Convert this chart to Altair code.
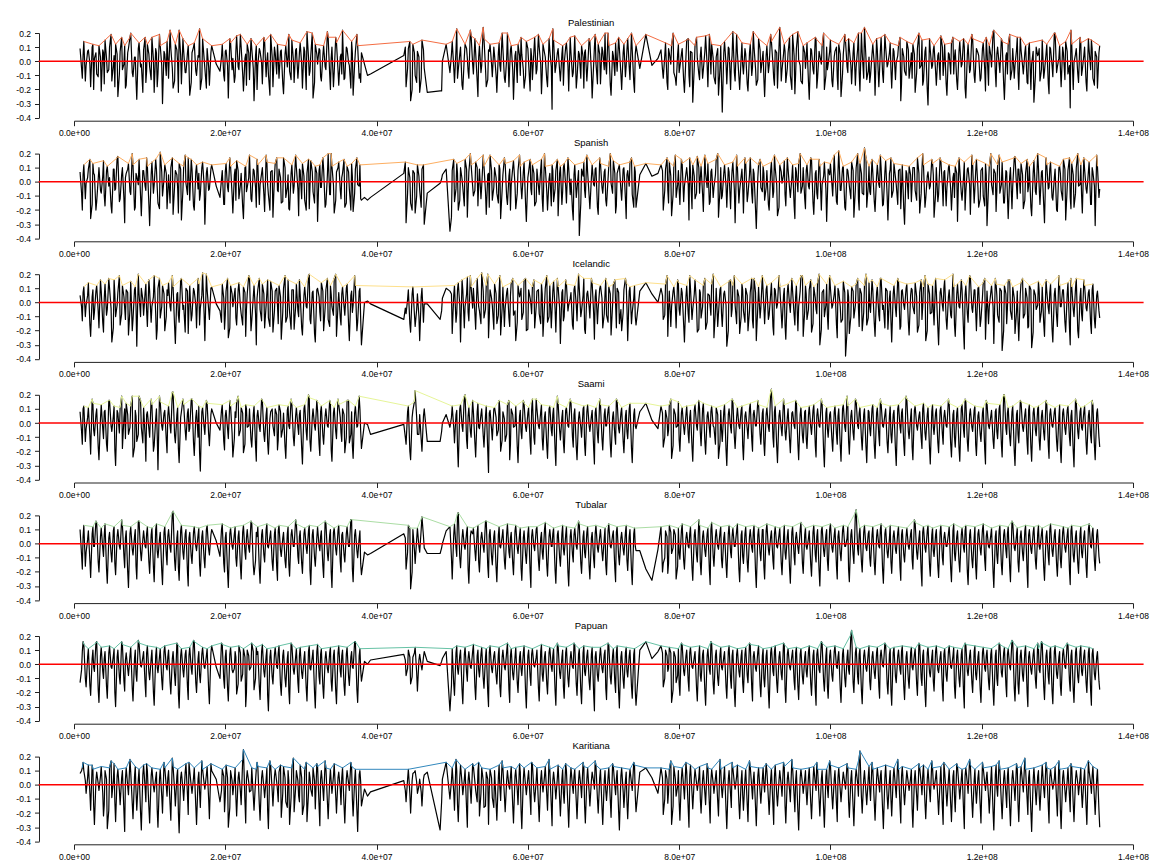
import altair as alt
import pandas as pd

FONT = "Liberation Sans"

# window positions in units of 0.1 Mb (shared by all populations)
POS = [
    8, 11, 13, 16, 19, 22, 25, 27, 30, 33,
    36, 39, 41, 44, 47, 50, 53, 55, 58, 61,
    64, 67, 69, 72, 75, 78, 81, 83, 86, 89,
    92, 95, 97, 100, 103, 106, 109, 111, 114, 117,
    120, 123, 125, 128, 131, 134, 137, 139, 142, 145,
    148, 151, 153, 156, 159, 162, 165, 167, 170, 173,
    176, 179, 182, 188, 193, 196, 199, 201, 204, 207,
    210, 213, 215, 218, 221, 224, 227, 229, 232, 235,
    238, 241, 243, 246, 249, 252, 255, 257, 260, 263,
    266, 269, 271, 274, 277, 280, 283, 285, 288, 291,
    294, 297, 299, 302, 305, 308, 311, 313, 316, 319,
    322, 325, 327, 330, 333, 336, 339, 341, 344, 347,
    350, 353, 355, 358, 361, 364, 367, 369, 372, 375,
    378, 380, 384, 388, 392, 436, 439, 442, 445, 448,
    451, 454, 457, 460, 463, 467, 484, 487, 492, 497,
    500, 503, 506, 508, 511, 514, 517, 520, 522, 525,
    528, 531, 534, 536, 539, 542, 545, 548, 550, 553,
    556, 559, 562, 564, 567, 570, 573, 576, 578, 581,
    584, 587, 590, 592, 595, 598, 601, 604, 606, 609,
    612, 615, 618, 620, 623, 626, 629, 632, 634, 637,
    640, 643, 646, 648, 651, 654, 657, 660, 662, 665,
    668, 671, 674, 676, 679, 682, 685, 688, 690, 693,
    696, 699, 702, 704, 707, 710, 713, 716, 718, 721,
    724, 727, 730, 732, 735, 738, 741, 743, 748, 756,
    764, 772, 776, 779, 782, 785, 787, 790, 793, 796,
    799, 801, 804, 807, 810, 813, 815, 818, 821, 824,
    827, 829, 832, 835, 838, 841, 843, 846, 849, 852,
    855, 857, 860, 863, 866, 869, 871, 874, 877, 880,
    883, 885, 888, 891, 894, 897, 899, 902, 905, 908,
    911, 913, 916, 919, 922, 925, 927, 930, 933, 936,
    939, 941, 944, 947, 950, 953, 955, 958, 961, 964,
    967, 969, 972, 975, 978, 981, 983, 986, 989, 992,
    995, 997, 1000, 1003, 1006, 1009, 1011, 1014, 1017, 1020,
    1023, 1025, 1028, 1031, 1034, 1037, 1039, 1042, 1045, 1048,
    1051, 1053, 1056, 1059, 1062, 1065, 1067, 1070, 1073, 1076,
    1079, 1081, 1084, 1087, 1090, 1093, 1095, 1098, 1101, 1104,
    1107, 1109, 1112, 1115, 1118, 1121, 1123, 1126, 1129, 1132,
    1135, 1137, 1140, 1143, 1146, 1149, 1151, 1154, 1157, 1160,
    1163, 1165, 1168, 1171, 1174, 1177, 1179, 1182, 1185, 1188,
    1191, 1193, 1196, 1199, 1202, 1205, 1207, 1210, 1213, 1216,
    1219, 1221, 1224, 1227, 1230, 1233, 1235, 1238, 1241, 1244,
    1247, 1249, 1252, 1255, 1258, 1261, 1263, 1266, 1269, 1272,
    1275, 1277, 1280, 1283, 1286, 1289, 1291, 1294, 1297, 1300,
    1303, 1305, 1308, 1311, 1314, 1317, 1319, 1322, 1325, 1328,
    1331, 1333, 1336, 1339, 1342, 1345, 1347, 1350, 1353, 1356,
]

# intermediate windows (0.1 Mb units), one row per row of POS
POS_B = [
    [10, 12, 15, 18, 21, 24, 26, 29, 32, 35],
    [38, 40, 43, 46, 49, 52, 54, 57, 60, 63],
    [66, 68, 71, 74, 77, 80, 82, 85, 88, 91],
    [94, 96, 99, 102, 105, 108, 110, 113, 116, 119],
    [122, 124, 127, 130, 133, 136, 138, 141, 144, 147],
    [150, 152, 155, 158, 161, 164, 166, 169, 172, 175],
    [178, 181, 195, 198, 200, 203, 206, 209],
    [212, 214, 217, 220, 223, 226, 228, 231, 234, 237],
    [240, 242, 245, 248, 251, 254, 256, 259, 262, 265],
    [268, 270, 273, 276, 279, 282, 284, 287, 290, 293],
    [296, 298, 301, 304, 307, 310, 312, 315, 318, 321],
    [324, 326, 329, 332, 335, 338, 340, 343, 346, 349],
    [352, 354, 357, 360, 363, 366, 368, 371, 374, 377],
    [379, 438, 441, 444, 447, 450],
    [453, 456, 459, 462, 486, 499],
    [502, 505, 507, 510, 513, 516, 519, 521, 524, 527],
    [530, 533, 535, 538, 541, 544, 547, 549, 552, 555],
    [558, 561, 563, 566, 569, 572, 575, 577, 580, 583],
    [586, 589, 591, 594, 597, 600, 603, 605, 608, 611],
    [614, 617, 619, 622, 625, 628, 631, 633, 636, 639],
    [642, 645, 647, 650, 653, 656, 659, 661, 664, 667],
    [670, 673, 675, 678, 681, 684, 687, 689, 692, 695],
    [698, 701, 703, 706, 709, 712, 715, 717, 720, 723],
    [726, 729, 731, 734, 737, 740, 742],
    [778, 781, 784, 786, 789, 792, 795, 798],
    [800, 803, 806, 809, 812, 814, 817, 820, 823, 826],
    [828, 831, 834, 837, 840, 842, 845, 848, 851, 854],
    [856, 859, 862, 865, 868, 870, 873, 876, 879, 882],
    [884, 887, 890, 893, 896, 898, 901, 904, 907, 910],
    [912, 915, 918, 921, 924, 926, 929, 932, 935, 938],
    [940, 943, 946, 949, 952, 954, 957, 960, 963, 966],
    [968, 971, 974, 977, 980, 982, 985, 988, 991, 994],
    [996, 999, 1002, 1005, 1008, 1010, 1013, 1016, 1019, 1022],
    [1024, 1027, 1030, 1033, 1036, 1038, 1041, 1044, 1047, 1050],
    [1052, 1055, 1058, 1061, 1064, 1066, 1069, 1072, 1075, 1078],
    [1080, 1083, 1086, 1089, 1092, 1094, 1097, 1100, 1103, 1106],
    [1108, 1111, 1114, 1117, 1120, 1122, 1125, 1128, 1131, 1134],
    [1136, 1139, 1142, 1145, 1148, 1150, 1153, 1156, 1159, 1162],
    [1164, 1167, 1170, 1173, 1176, 1178, 1181, 1184, 1187, 1190],
    [1192, 1195, 1198, 1201, 1204, 1206, 1209, 1212, 1215, 1218],
    [1220, 1223, 1226, 1229, 1232, 1234, 1237, 1240, 1243, 1246],
    [1248, 1251, 1254, 1257, 1260, 1262, 1265, 1268, 1271, 1274],
    [1276, 1279, 1282, 1285, 1288, 1290, 1293, 1296, 1299, 1302],
    [1304, 1307, 1310, 1313, 1316, 1318, 1321, 1324, 1327, 1330],
    [1332, 1335, 1338, 1341, 1344, 1346, 1349, 1352, 1355],
]

PANELS = ["Palestinian", "Spanish", "Icelandic", "Saami", "Tubalar", "Papuan", "Karitiana"]
COLORS = ["#F46D43", "#FDAE61", "#FEE08B", "#E6F598", "#ABDDA4", "#66C2A5", "#3288BD"]

# statistic values in hundredths, at POS
PALESTINIAN = [
    9, -12, 14, -3, 8, -18, 12, 2, -9, 11,
    -21, 6, 15, -8, 10, -14, 4, 12, -25, 7,
    -6, 11, -17, 9, 20, -11, 3, -27, 13, -2,
    8, -15, 12, -4, 17, -22, 6, -9, 11, -30,
    5, 14, -12, 9, -19, 12, -1, 22, -16, 7,
    -8, 11, -24, 6, 13, -10, 3, -20, 16, -5,
    9, -17, 11, -2, -7, 12, -14, 8, -26, 13,
    2, -11, 18, -6, 10, -21, 5, 12, -13, 9,
    -28, 11, -3, 7, -16, 14, 0, -9, 19, -18,
    6, 12, -12, 8, -23, 11, 3, -7, 15, -15,
    9, -4, 13, -19, 7, 21, -10, 4, -26, 12,
    -2, 8, -14, 11, -6, 17, -20, 10, -8, 13,
    -17, 5, 22, -12, 9, -3, 14, -24, 7, 11,
    -9, 6, -2, -10, -9, 4, -18, 9, -28, 12,
    -10, 7, -22, 15, -5, -22, -21, 0, 12, -8,
    14, -15, 23, -6, 10, -20, 12, 2, -12, 18,
    -9, 6, -25, 11, -3, 16, -18, 8, 12, -11,
    4, -22, 13, -7, 9, -15, 20, -4, 11, -27,
    7, 12, -10, 5, -19, 14, -1, 9, -13, 17,
    -6, 10, -23, 12, 3, -18, 8, -34, 15, -4,
    9, -14, 11, -2, 13, -21, 6, -8, 18, -12,
    5, 11, -19, 8, -5, 14, -26, 10, -1, 12,
    -16, 7, 20, -9, 11, -24, 4, 13, -7, 9,
    -20, 12, -3, 16, -13, 8, -22, 11, -5, 19,
    -3, 2, 8, -12, 13, -20, 6, 11, -8, -17,
    12, -4, 9, -22, 15, -10, 7, -29, 11, 2,
    -13, 10, -6, 18, -18, 8, 12, -11, 3, -24,
    11, -36, 14, -16, 9, -2, 21, -14, 6, -20,
    13, -9, 5, -21, 12, -4, 10, -17, 16, -8,
    7, -25, 11, -3, 14, -12, 8, -19, 24, -6,
    12, -15, 6, -10, 19, -23, 9, 1, -14, 11,
    -5, 13, -27, 8, -9, 16, -12, 4, 11, -20,
    10, -2, 15, -18, 7, -11, 12, -25, 5, 14,
    -8, 9, -16, 13, -4, 20, -21, 6, 24, -13,
    3, -10, 12, -24, 8, -6, 17, -15, 10, -2,
    13, -19, 7, -1, 11, -28, 9, -7, 14, -12,
    6, 12, -22, 9, -5, 15, -14, 10, -31, 8,
    -3, 11, -17, 6, 18, -10, 12, -24, 5, 13,
    -9, 8, -20, 14, -2, 10, -26, 12, -6, 16,
    -15, 9, 4, -12, 13, -21, 7, 11, -4, 22,
    -18, 10, -8, 14, -27, 6, 12, -13, 9, -3,
    17, -20, 8, -9, 11, -16, 13, -2, -29, 10,
    5, -14, 15, -7, 12, -23, 9, -11, 20, -4,
    11, -18, 6, 14, -9, -33, 12, -1, 9, -15,
    13, -6, 10, -21, 8, 15, -12, 7, -19, 11,
]
PALESTINIAN_B = [
    [-5, 4, -14, 7, -2, 10, -20, 6, -11, 3],
    [8, -16, 2, -6, 19, -3, -18, 5, -9, 17],
    [-2, -19, 6, 17, -8, 3, -14, 9, -4, -22],
    [17, -7, 5, -13, 1, 9, -18, 19, -3, 7],
    [-10, 3, 22, -5, -14, 8, -22, 4, 16, -8],
    [6, -3, -15, 10, -7, 4, 23, -12, 2, -19],
    [-4, 6, 3, -10, 7, -3, 16, -6],
    [-15, 7, -4, 19, -9, 2, -17, 6, 16, -5],
    [4, -20, 9, -1, 17, -11, 6, -24, 3, 10],
    [-9, 2, 7, -16, 5, -4, 19, -13, 1, 8],
    [-12, 6, -2, 10, -20, 3, -7, 20, -15, 5],
    [9, -11, 4, -4, 21, -9, 2, -18, 17, -6],
    [3, -9, -13, 10, -1, -19, 6, -2, 19, -12],
    [-15, 10, -5, 14, -20, 6],
    [-15, 3, -12, 8, -21, 5],
    [-4, 8, -12, 5, -17, 3, 9, -7, 22, -2],
    [16, -14, 3, -8, 24, -5, -13, 7, -2, 10],
    [-10, 6, -3, 20, -12, 2, -18, 8, -6, 4],
    [-15, 4, 17, -6, -10, 9, -21, 3, 7, -9],
    [19, -2, -9, 6, -13, 16, -4, 23, -8, 6],
    [-7, 5, -17, 10, -3, 17, -11, 4, -19, 7],
    [-12, 3, 6, -14, 16, -8, -2, 19, -16, 5],
    [10, -6, -3, 20, -17, 7, -10, 2, 17, -9],
    [6, -11, 8, -4, 20, -15, 5],
    [-6, 4, -15, 9, -2, 20, -12, 5],
    [-8, 5, -14, 3, 16, -18, 6, -4, 17, -9],
    [4, -12, 7, -3, 19, -9, 2, -16, 9, -5],
    [-14, 6, -2, 10, -20, 4, -8, 19, -11, 3],
    [-3, 9, -16, 6, -10, 21, -5, -13, 8, 2],
    [-12, 4, -8, 19, -2, -17, 6, 10, -14, 5],
    [7, -5, 17, -20, 4, -9, 21, -3, -16, 6],
    [3, -15, 9, -6, 17, -19, 7, -2, 20, -10],
    [-6, 7, -14, 3, 10, -20, 5, -9, 19, -4],
    [16, -3, 6, -17, 9, -8, 20, -12, 2, -7],
    [-15, 5, -2, 16, -18, 7, -9, 19, -4, 6],
    [-6, 9, -13, 4, 17, -16, 3, -10, 8, -2],
    [-12, 5, -8, 20, -3, -17, 7, -20, 16, -5],
    [8, -7, 4, -13, 10, -2, -16, 6, -9, 17],
    [3, -14, 7, -4, 16, -19, 5, -8, 19, -10],
    [-3, 6, -14, 9, -6, 17, -17, 4, 21, -8],
    [5, -2, 16, -16, 4, -9, 19, -6, -12, 8],
    [-8, 17, -3, 6, -15, 9, -20, 7, -10, 4],
    [9, -6, -12, 5, -16, 10, -3, 20, -8, 2],
    [-5, 10, -13, 7, -3, 22, -20, 5, -9, 17],
    [-10, 4, -15, 16, -6, 9, -17, 3, 6],
]

SPANISH = [
    7, -20, 12, -1, 9, -26, 13, 5, -14, 10,
    -8, 15, -17, 11, 3, -22, 9, -5, 18, -12,
    10, -29, 6, 13, -9, 12, -18, 4, 16, -24,
    8, -6, 11, -31, 14, -2, 9, -15, 21, -10,
    12, -19, 5, 10, -23, 8, -4, 13, -27, 11,
    -1, 17, -13, 9, -20, 12, 6, -9, 14, -30,
    10, -5, 12, -3, -11, 8, -16, 13, -7, 11,
    -22, 9, 15, -12, 6, -26, 11, -4, 19, -14,
    8, -18, 12, -2, 10, -21, 14, -9, 7, -25,
    13, -6, 9, -15, 17, -11, 5, -20, 12, -3,
    10, -24, 8, 13, -13, 6, -19, 15, -7, 11,
    -28, 12, -4, 9, -16, 20, -9, 11, -22, 7,
    14, -12, 6, -18, 11, -5, 13, -21, 9, -2,
    12, -13, -11, -13, -11, 6, -29, 10, -15, 8,
    -22, 12, -6, 9, -30, -8, -1, 5, 9, -35,
    8, -14, 13, -20, 10, -4, 16, -25, 7, 12,
    -10, 14, -17, 9, -3, 11, -23, 6, 19, -13,
    10, -8, 12, -26, 5, 13, -16, 9, -2, 15,
    -19, 8, 11, -12, 14, -28, 7, -5, 12, -17,
    9, -9, 16, -21, 11, -20, 6, 12, -14, 8,
    -24, 11, -7, 13, -15, 10, 2, -27, 12, -5,
    -38, 9, 14, -11, 7, -19, 12, -3, 10, -23,
    13, -8, 9, -17, 11, -1, 15, -22, 6, 12,
    -13, 10, -26, 8, 14, -9, 11, -18, 5, 13,
    4, 6, 12, -20, 9, -6, 14, -24, 11, -11,
    8, -16, 13, -3, 10, -27, 7, 12, -12, 18,
    -8, 11, -21, 6, 13, -14, 9, -4, 16, -25,
    10, -10, 12, -18, 7, -2, 14, -29, 11, -6,
    9, -22, 13, -9, 17, -15, 6, -33, 12, -4,
    11, -13, 8, -20, 14, -7, 10, -24, 12, -1,
    15, -17, 9, -11, 12, -26, 7, 13, -8, 10,
    -19, 12, -5, 16, -23, 8, -12, 11, -2, 14,
    -28, 9, 13, -10, 7, -16, 22, -6, 11, -20,
    8, -3, 14, -25, 10, -12, 13, -8, 24, -18,
    11, -9, 7, -21, 12, -4, 10, -16, 15, -27,
    9, -11, 13, -2, 8, -19, 12, -30, 6, 11,
    -14, 10, -6, 17, -22, 9, 12, -12, 7, -3,
    13, -25, 10, -9, 15, -17, 8, -4, 12, -20,
    6, 11, -28, 9, -13, 14, -7, 10, -23, 12,
    -5, 16, -18, 8, -10, 13, -31, 11, -2, 9,
    -21, 12, -8, 14, -15, 7, -26, 10, -3, 18,
    -12, 9, 13, -19, 6, -7, 11, -24, 15, -9,
    10, -16, 8, -29, 12, -4, 14, -13, 9, -21,
    11, -6, 16, -27, 8, -11, 13, -18, 10, -3,
    12, -22, 9, -8, 14, -16, 7, -31, 11, -5,
]
SPANISH_B = [
    [-8, 5, -12, 3, 16, -16, 6, -20, 2, -6],
    [4, -10, 8, -3, -17, 9, -6, 17, -14, 5],
    [-12, 3, 9, -7, 20, -20, 6, -2, -10, 8],
    [-3, 17, -16, 5, -8, 16, -4, -19, 7, 2],
    [6, -8, -15, 17, -3, 5, -22, 9, -6, 19],
    [-9, 4, 16, -17, 7, -5, -13, 10, -2, 6],
    [-6, 9, 2, -16, 7, -4, 17, -9],
    [5, -13, 8, -2, -18, 10, -7, 3, -12, 9],
    [-4, 16, -16, 6, -9, 19, -2, -20, 8, 4],
    [17, -7, 3, -14, 10, -4, -19, 6, -8, 19],
    [-5, 9, -12, 4, -20, 16, -3, 7, -15, 6],
    [8, -4, 17, -18, 5, -9, 20, -2, -13, 10],
    [-6, 3, 16, -15, 7, -20, 4, -8, 17, -3],
    [-12, 14, -8, 3, -20, 6],
    [-10, 4, -18, 12, 2, -25],
    [16, -5, 6, -13, 2, -17, 9, -8, 20, -3],
    [-6, 10, -2, -12, 19, -7, 5, -18, 8, -4],
    [3, -15, 9, -6, 17, -11, 4, -20, 10, -2],
    [-8, 19, -4, 7, -16, 3, 16, -9, 6, -14],
    [-3, 9, -12, 20, -7, 2, -17, 8, -5, 16],
    [6, -16, 10, -3, 17, -9, -20, 5, -11, 8],
    [-15, 4, -6, 19, -10, 3, -2, 9, -18, 17],
    [-4, 7, -13, 2, 20, -8, 6, -17, 10, -6],
    [9, -12, 5, -3, 17, -18, 7],
    [8, -6, 17, -15, 4, -9, 19, -2],
    [-5, 16, -14, 6, -2, 17, -19, 4, -8, 10],
    [3, -9, 19, -4, -16, 7, -11, 5, 20, -6],
    [-12, 6, -3, 10, -19, 8, -6, 19, -15, 4],
    [-2, 17, -14, 5, -8, 9, -20, 3, 16, -7],
    [6, -4, -16, 8, -11, 19, -2, -18, 7, 5],
    [-9, 17, -5, 3, -17, 10, -7, 20, -3, -12],
    [8, -3, 17, -15, 6, -8, 16, -20, 4, -5],
    [-10, 5, -2, 19, -14, 7, -6, 10, -18, 9],
    [3, -12, 8, -5, 20, -20, 6, -9, 17, -3],
    [-7, 16, -14, 4, -2, 19, -17, 7, -10, 6],
    [17, -6, 3, -16, 9, -4, -20, 8, -12, 5],
    [-2, 10, -13, 6, -8, 20, -18, 4, -5, 16],
    [5, -9, -14, 17, -3, 7, -17, 10, -6, 3],
    [-11, 6, 17, -8, 4, -20, 9, -2, 19, -15],
    [7, -4, -12, 10, -17, 5, -3, 20, -9, 6],
    [-6, 19, -2, -15, 8, -10, 4, -19, 17, -3],
    [9, -8, 5, -13, 16, -3, -18, 6, -7, 20],
    [-4, 7, -17, 17, -5, 9, -11, 3, -20, 10],
    [6, -13, 9, -4, 17, -19, 5, -8, 20, -2],
    [-9, 17, -5, 7, -16, 10, -3, 19, -11],
]

ICELANDIC = [
    5, -13, 11, -2, 14, -24, 9, -7, 12, -18,
    8, -21, 13, -5, 10, -28, 16, -10, 7, -16,
    12, -4, 9, -23, 15, -12, 11, -31, 6, 10,
    -9, 13, -17, 8, -3, 19, -26, 10, -11, 12,
    -20, 9, 14, -6, 11, -29, 7, -14, 17, -2,
    10, -22, 12, -9, 8, -18, 13, -4, 21, -27,
    9, -12, 11, -1, -6, 13, -19, 8, -25, 12,
    -3, 10, -16, 14, -8, 11, -24, 6, 18, -13,
    12, -30, 9, -5, 13, -18, 7, -11, 15, -21,
    8, -2, 12, -26, 10, -14, 16, -7, 9, -19,
    13, -10, 6, -23, 11, -4, 20, -15, 8, -28,
    10, -7, 14, -20, 9, -12, 12, -3, 17, -24,
    7, -16, 11, -9, 13, -27, 8, -2, 12, -14,
    10, -30, 0, 1, -1, -12, -8, 9, -21, 11,
    -17, 6, -27, 10, -1, -1, -12, 3, 10, 8,
    -22, 12, -8, 14, -28, 9, -3, 18, -13, 11,
    10, -19, 7, -6, 21, -11, 12, -25, 9, -2,
    13, -15, 8, -23, 11, -4, 10, -17, 14, -9,
    -27, 12, 6, -12, 16, -20, 9, -1, 11, -18,
    8, -8, 13, -24, 10, -14, 12, -5, 15, -21,
    11, -29, 9, -10, 13, -2, 7, -19, 12, -13,
    10, -6, 17, -22, 8, -11, 14, -26, 9, -4,
    12, -18, 6, -9, 11, -23, 13, -1, 10, -15,
    -20, 9, 14, -27, 11, -7, 12, -16, 8, 14,
    6, 0, 10, -12, 13, -24, 8, -3, 11, -18,
    14, -9, 7, -28, 12, -14, 10, -5, 16, -21,
    9, -11, 12, -19, 6, -3, 13, -25, 10, -8,
    11, -17, 8, -31, 15, -10, 12, -2, 9, -22,
    13, -6, 10, -20, 7, -13, 17, -27, 11, -4,
    8, -15, 12, -9, 14, -23, 9, -1, 11, -18,
    10, -26, 13, -7, 8, -16, 12, -3, 19, -24,
    12, -12, 9, -21, 11, -5, 14, -30, 7, -10,
    13, -19, 10, -2, 12, -25, 8, -14, 15, -38,
    9, -22, 11, -11, 13, -4, 10, -20, 12, -16,
    14, -7, 9, -24, 11, -13, 17, -2, 10, -19,
    8, -28, 12, -10, 15, -17, 9, -5, 13, -23,
    10, -3, 14, -21, 7, -12, 11, -27, 13, -8,
    12, -16, 8, -30, 10, -6, 16, -19, 9, -11,
    11, -24, 13, -4, 9, -33, 12, -14, 18, -7,
    9, -20, 11, -12, 14, -26, 8, -3, 12, -29,
    13, -9, 10, -34, 12, -15, 16, -6, 11, -22,
    8, -27, 14, -11, 10, -18, 12, -32, 9, -5,
    15, -14, 11, -24, 8, -8, 13, -28, 10, -17,
    12, -3, 9, -21, 14, -30, 11, -10, 17, -25,
    10, -13, 12, -6, 9, -22, 13, -18, 8, -11,
]
ICELANDIC_B = [
    [-3, 7, -10, 5, -16, 4, -12, 8, -6, 16],
    [-14, 3, -9, 17, -4, -18, 6, -2, 19, -8],
    [4, -12, 7, -5, -20, 9, -3, 20, -10, 2],
    [7, -6, 16, -14, 4, -8, -19, 17, -3, 6],
    [-10, 5, -3, 19, -17, 6, -9, 16, -5, -21],
    [8, -4, -13, 10, -2, 17, -16, 5, -8, 20],
    [-5, 10, -14, 3, -9, 17, -18, 6],
    [6, -11, 9, -3, -16, 7, -5, 19, -20, 4],
    [-8, 3, 17, -13, 6, -2, 16, -17, 8, -6],
    [10, -15, 4, -7, 19, -10, 2, -19, 9, -3],
    [-6, 16, -18, 5, -3, 19, -12, 7, -22, 9],
    [4, -13, 8, -4, 17, -17, 6, -9, 20, -2],
    [-11, 6, -3, 10, -16, 5, -7, 19, -20, 8],
    [-12, -4, 2, -15, 6, -8],
    [-5, -10, 4, -14, -6, 6],
    [5, -14, 9, -2, 16, -18, 6, -7, 19, -4],
    [-8, 17, -3, -15, 8, -5, 20, -11, 3, -19],
    [6, -9, 19, -4, -17, 7, -11, 5, 17, -6],
    [-14, 4, 10, -7, 17, -19, 3, -8, 16, -3],
    [9, -15, 6, -2, 19, -10, -18, 8, -5, 17],
    [-4, 7, -13, 16, -6, 3, -16, 9, -2, 20],
    [-10, 5, -19, 6, -3, 17, -8, 4, -15, 10],
    [3, -8, 17, -14, 6, -2, 16, -18, 7, -5],
    [-7, 17, -4, 8, -15, 3, -10],
    [5, -9, 19, -6, -17, 8, -3, 16],
    [-5, 10, -16, 4, -8, 19, -12, 6, -2, -19],
    [7, -3, 17, -14, 5, -9, 20, -6, -17, 9],
    [-8, 6, -2, -20, 16, -5, 19, -15, 4, -10],
    [9, -14, 5, -6, 17, -18, 7, -3, -11, 19],
    [-3, 9, -12, 6, -17, 10, -4, 19, -8, 5],
    [-16, 7, -2, 17, -9, 4, -20, 8, 19, -6],
    [6, -5, 16, -15, 3, -8, 20, -19, 9, -2],
    [-9, 19, -4, 6, -16, 10, -3, -12, 7, -20],
    [4, -10, 8, -2, 17, -17, 6, -7, 20, -11],
    [-3, 16, -15, 7, -9, 17, -5, -18, 8, 3],
    [-13, 6, -4, 17, -19, 8, -2, 10, -14, 5],
    [9, -8, 4, -16, 16, -3, 19, -20, 6, -7],
    [-5, 17, -18, 7, -2, 10, -12, 4, -9, 20],
    [-16, 6, -3, 16, -21, 5, -8, 19, -4, 9],
    [-6, 10, -17, 4, 17, -9, -15, 7, -3, 17],
    [5, -14, 8, -20, 6, -4, 16, -12, 3, -7],
    [-13, 6, 17, -8, 3, -17, 9, -21, 5, -2],
    [8, -6, -15, 16, -4, 7, -19, 6, -10, 19],
    [-3, 9, -14, 6, -18, 17, -5, 10, -20, 4],
    [-8, 16, -4, 7, -15, 9, -12, 5, -6],
]

SAAMI = [
    8, -15, 12, -4, 11, -22, 14, -9, 10, -26,
    13, -11, 9, -20, 16, -6, 12, -30, 7, 11,
    -18, 10, 14, -8, 12, -24, 9, -13, 19, -3,
    11, -27, 8, -10, 13, -16, 10, -33, 15, -5,
    9, -21, 12, -7, 22, -14, 11, -28, 8, 13,
    -12, 10, -4, 17, -23, 9, 12, -34, 11, -8,
    14, -16, 10, 0, -5, 13, -19, 9, -11, 12,
    -24, 8, 15, -9, 11, -21, 13, -3, 10, -17,
    12, -27, 9, -6, 16, -13, 11, -22, 8, -2,
    10, -19, 13, -10, 7, -25, 12, -4, 14, -16,
    11, -8, 9, -29, 13, -12, 18, -20, 10, -5,
    9, -23, 12, -15, 10, -3, 14, -27, 11, -11,
    13, -7, 10, -21, 16, -14, 8, -25, 12, -2,
    10, -18, 0, -1, -8, -1, -15, 12, -26, 9,
    23, -8, 6, -20, 10, -13, -13, 0, 6, -3,
    12, -14, 9, -31, 13, -6, 20, -18, 11, -10,
    8, -24, 14, -4, 10, -17, 12, -35, 9, -12,
    11, -9, 16, -20, 8, -13, 13, -26, 10, -3,
    12, -28, 9, -11, 14, -6, 11, -22, 17, -15,
    10, -4, 13, -19, 8, -25, 12, -9, 11, -30,
    14, -12, 9, -21, 11, -3, 15, -17, 10, -26,
    8, -10, 12, -23, 13, -6, 9, -29, 11, -14,
    13, -19, 10, -2, 12, -24, 8, -15, 16, -7,
    11, -21, 9, -11, 14, -28, 10, -4, 8, 14,
    2, -4, 12, -17, 9, -9, 13, -25, 10, -3,
    15, -20, 11, -8, 12, -14, 9, -27, 13, -5,
    10, -16, 14, -22, 8, -10, 12, -3, 11, -25,
    9, -13, 13, -30, 10, -7, 16, -18, 11, -4,
    12, -26, 8, -11, 14, -20, 9, -2, 13, -15,
    10, -23, 11, -6, 24, -17, 12, -28, 9, -9,
    13, -12, 10, -21, 8, -4, 15, -26, 11, -14,
    9, -18, 12, -8, 13, -24, 10, -3, 14, -31,
    11, -10, 8, -20, 12, -15, 10, -27, 13, -6,
    12, -22, 9, -12, 16, -4, 11, -19, 10, -28,
    8, -9, 13, -25, 11, -16, 14, -3, 10, -21,
    12, -14, 9, -30, 13, -7, 10, -23, 17, -11,
    10, -26, 12, -5, 8, -18, 14, -12, 11, -29,
    13, -8, 10, -21, 12, -15, 9, -3, 14, -24,
    9, -17, 11, -27, 13, -10, 16, -20, 10, -6,
    12, -23, 8, -13, 11, -29, 14, -4, 9, -18,
    10, -11, 13, -24, 20, -8, 11, -16, 12, -30,
    9, -14, 15, -6, 10, -22, 13, -27, 11, -9,
    12, -19, 9, -12, 14, -25, 10, -3, 11, -20,
    13, -28, 10, -8, 12, -16, 9, -31, 15, -11,
    11, -5, 12, -22, 9, -14, 13, -26, 10, -17,
]
SAAMI_B = [
    [-6, 10, -13, 4, -9, 17, -5, 6, -17, 3],
    [-4, 8, -15, 16, -2, 5, -19, 9, -7, 19],
    [4, -11, 6, -3, 19, -17, 5, -8, 16, -14],
    [-9, 6, -4, 17, -20, 3, -8, 19, -2, 7],
    [-12, 5, -2, 22, -9, 6, -18, 4, 17, -5],
    [7, -6, 17, -14, 4, -10, -21, 8, -3, 16],
    [-8, 6, 9, -13, 5, -4, 16, -7],
    [-11, 4, 19, -5, 7, -15, 10, -2, -12, 6],
    [-16, 5, -3, 17, -8, 6, -14, 3, 10, -9],
    [6, -12, 8, -4, -17, 9, -2, 17, -10, 5],
    [-3, 6, -18, 10, -6, 20, -13, 4, -2, 16],
    [-15, 8, -9, 5, -2, 16, -19, 7, -6, 17],
    [4, -13, 6, -10, 16, -8, -16, 7, -3, 19],
    [-6, -10, 8, -20, 4, 15],
    [4, -8, -12, 5, -6, 4],
    [-3, 6, -17, 10, -2, 19, -12, 5, -6, 16],
    [-14, 8, -3, 6, -9, 5, -20, 7, -4, 10],
    [4, -5, 10, -12, 3, -8, 16, -15, 6, -2],
    [-17, 5, -6, 16, -3, 7, -14, 9, -10, 17],
    [-2, 8, -11, 4, -16, 10, -5, 6, -19, 19],
    [-5, 4, -14, 9, -2, 17, -10, 6, -17, 3],
    [-3, 10, -15, 8, -2, 5, -18, 7, -8, 17],
    [-11, 6, -2, 9, -15, 4, -9, 17, -4, 7],
    [-13, 5, -6, 10, -18, 6, -2],
    [7, -10, 3, -5, 17, -16, 6, -2],
    [-12, 7, -3, 6, -8, 4, -17, 9, -2, 16],
    [-7, 10, -13, 5, -4, 8, -2, -15, 6, -14],
    [-5, 8, -19, 6, -3, 17, -10, 4, -2, 9],
    [-16, 5, -4, 10, -12, 6, -2, 16, -8, 7],
    [-14, 6, -3, 22, -10, 8, -17, 5, -4, 17],
    [-6, 4, -12, 7, -2, 16, -15, 6, -9, 8],
    [-11, 6, -3, 9, -16, 5, -2, 17, -20, 7],
    [-4, 6, -12, 8, -8, 5, -16, 10, -3, 19],
    [-13, 5, -7, 17, -2, 7, -11, 6, -17, 9],
    [-4, 10, -16, 7, -9, 17, -2, 6, -14, 5],
    [-8, 6, -19, 10, -3, 7, -15, 19, -6, 4],
    [-17, 9, -2, 5, -11, 10, -7, 6, -18, 8],
    [-3, 7, -14, 9, -8, 4, -2, 17, -15, 6],
    [-10, 7, -18, 10, -5, 17, -13, 6, -3, 9],
    [-15, 5, -8, 7, -19, 16, -2, 5, -12, 8],
    [-6, 10, -15, 20, -4, 7, -10, 8, -20, 6],
    [-8, 16, -3, 6, -14, 9, -17, 7, -5, 10],
    [-12, 5, -7, 16, -16, 6, -2, 8, -13, 4],
    [-18, 7, -4, 9, -10, 5, -20, 17, -6, 8],
    [-3, 8, -14, 5, -9, 16, -16, 7, -10],
]

TUBALAR = [
    10, -18, 13, -6, 9, -24, 12, -2, 15, -20,
    11, -9, 14, -28, 8, -13, 12, -22, 10, -4,
    13, -17, 9, -31, 12, -8, 10, -25, 16, -12,
    9, -3, 12, -21, 11, -27, 14, -10, 8, -29,
    12, -15, 10, -6, 23, -19, 9, -26, 13, -11,
    10, -30, 8, -14, 12, -5, 11, -23, 9, -17,
    13, -8, 10, 2, -9, 14, -20, 8, -31, 11,
    -4, 12, -16, 9, -25, 13, -11, 10, -6, 15,
    -22, 8, 12, -28, 10, -13, 14, -3, 9, -19,
    11, -26, 13, -9, 8, -17, 12, -23, 10, -2,
    14, -14, 9, -21, 11, -7, 13, -29, 10, -16,
    12, -5, 9, -24, 15, -12, 10, -31, 11, -8,
    13, -20, 8, -13, 12, -2, 17, -27, 10, -10,
    9, -22, -6, -8, -7, 7, -18, 13, -32, 10,
    -14, 11, -6, 19, -3, -7, -7, 0, 9, 12,
    -25, 14, -9, 22, -17, 10, -4, 12, -28, 9,
    11, -12, 13, -20, 8, -6, 16, -24, 10, -15,
    9, -27, 12, -3, 10, -18, 14, -10, 8, -22,
    13, -7, 11, -26, 9, -14, 12, -31, 10, -5,
    12, -19, 8, -11, 15, -23, 10, -2, 11, -28,
    9, -16, 13, -8, 12, -30, 10, -13, 11, -4,
    14, -21, 9, -10, 12, -25, 8, -17, 13, -6,
    10, -12, 11, -22, 14, -3, 9, -27, 12, -15,
    8, -8, 13, -19, 10, -29, 11, -5, -5, -18,
    -26, -4, 12, -14, 9, -21, 13, -7, 10, -25,
    11, -11, 14, -18, 8, -3, 12, -26, 10, -13,
    13, -22, 9, -9, 11, -29, 15, -16, 10, -4,
    12, -17, 8, -24, 13, -10, 11, -2, 14, -27,
    9, -14, 12, -20, 10, -6, 13, -31, 11, -12,
    10, -25, 14, -8, 9, -18, 12, -3, 11, -22,
    13, -11, 10, -28, 12, -15, 8, -7, 15, -21,
    11, -4, 9, -23, 13, -13, 10, -30, 12, -9,
    10, -19, 14, -6, 11, -25, 9, -12, 13, -2,
    12, -27, 10, -14, 24, -8, 11, -20, 13, -5,
    9, -16, 12, -22, 10, -3, 14, -28, 11, -10,
    13, -21, 9, -7, 12, -26, 10, -13, 11, -4,
    10, -18, 15, -11, 9, -30, 12, -6, 13, -23,
    11, -9, 10, -24, 13, -15, 8, -2, 12, -27,
    14, -12, 9, -20, 11, -6, 13, -29, 10, -17,
    12, -25, 10, -8, 14, -19, 9, -3, 11, -31,
    9, -14, 13, -22, 10, -10, 12, -27, 15, -5,
    11, -20, 9, -12, 13, -31, 10, -7, 12, -18,
    13, -4, 11, -26, 9, -15, 14, -9, 10, -23,
    10, -17, 12, -6, 11, -29, 13, -13, 9, -21,
    12, -10, 9, -24, 14, -3, 11, -19, 10, -14,
]
TUBALAR_B = [
    [-8, 5, -16, 3, -12, 7, -2, 16, -13, 5],
    [-3, 6, -18, 4, -7, 9, -14, 5, -2, 17],
    [-9, 4, -20, 7, -4, 5, -16, 16, -6, 3],
    [-2, 7, -13, 6, -17, 10, -5, 3, -19, 8],
    [-8, 5, -3, 22, -12, 4, -17, 9, -6, 7],
    [-20, 4, -9, 8, -2, 6, -15, 5, -11, 10],
    [-4, 6, 10, -14, 4, -20, 7, -2],
    [7, -10, 5, -16, 8, -6, 4, -3, 16, -15],
    [-12, 5, -18, 6, -8, 10, -2, 5, -13, 7],
    [-17, 9, -5, 4, -12, 7, -15, 6, -2, 17],
    [-9, 5, -14, 7, -3, 9, -19, 6, -10, 4],
    [-2, 5, -16, 16, -7, 6, -20, 8, -4, 9],
    [-13, 6, -8, 7, -2, 17, -18, 6, -5, 4],
    [-14, 4, -6, 11, -20, -4],
    [3, -2, 10, 5, -3, -10],
    [6, -3, 21, -10, 4, -2, 8, -18, 5, 7],
    [-5, 8, -13, 4, -2, 16, -16, 6, -9, 5],
    [-17, 6, -2, 5, -12, 7, -6, 4, -14, 9],
    [-3, 6, -17, 4, -8, 7, -20, 5, -2, 10],
    [-12, 4, -6, 10, -15, 5, -2, 7, -19, 6],
    [-10, 7, -4, 6, -20, 5, -8, 6, -2, 16],
    [-14, 5, -6, 8, -16, 4, -11, 7, -3, 5],
    [-6, 4, -15, 9, -2, 6, -18, 8, -9, 4],
    [-4, 8, -12, 5, -19, 7, -2],
    [-20, -10, 5, -14, 8, -3, 6, -16],
    [-7, 9, -12, 4, -2, 7, -17, 6, -8, 17],
    [-14, 5, -5, 7, -19, 10, -9, 5, -2, 8],
    [-11, 4, -15, 7, -6, 5, -2, 9, -18, 6],
    [-9, 7, -13, 5, -3, 8, -20, 6, -7, 10],
    [-16, 9, -4, 5, -12, 7, -2, 6, -14, 4],
    [-6, 5, -18, 8, -9, 4, -3, 10, -14, 6],
    [-2, 4, -15, 8, -8, 5, -19, 9, -5, 6],
    [-12, 10, -3, 6, -16, 5, -7, 9, -2, 4],
    [-18, 6, -8, 22, -4, 6, -13, 8, -3, 7],
    [-10, 6, -14, 5, -2, 10, -19, 7, -6, 4],
    [-13, 5, -4, 8, -17, 6, -8, 5, -2, 7],
    [-11, 17, -6, 4, -20, 8, -3, 9, -15, 6],
    [-5, 6, -16, 8, -10, 4, -2, 7, -18, 9],
    [-7, 5, -13, 6, -3, 9, -20, 6, -11, 4],
    [-16, 7, -4, 10, -12, 5, -2, 6, -20, 5],
    [-8, 9, -15, 6, -5, 7, -17, 16, -3, 6],
    [-13, 5, -7, 9, -20, 6, -4, 8, -12, 7],
    [-2, 7, -17, 5, -9, 10, -5, 6, -15, 4],
    [-11, 8, -3, 6, -19, 9, -8, 5, -14, 7],
    [-6, 5, -16, 10, -2, 7, -12, 6, -9],
]

PAPUAN = [
    -13, 9, 14, -16, 11, -22, 10, -5, 16, -27,
    12, -10, 9, -24, 13, -3, 11, -30, 10, -14,
    14, -19, 8, -8, 12, -26, 10, -12, 15, -2,
    9, -23, 13, -11, 10, -29, 12, -6, 11, -18,
    13, -4, 10, -21, 9, -15, 14, -31, 11, -9,
    10, -25, 12, -7, 16, -20, 9, -13, 12, -3,
    11, -28, 13, -2, -10, 14, -17, 10, -26, 12,
    -6, 9, -21, 13, -12, 11, -30, 10, -4, 15,
    -18, 12, 9, -25, 14, -9, 11, -33, 10, -14,
    12, -3, 13, -22, 10, -16, 9, -28, 14, -7,
    11, -20, 12, -10, 9, -26, 13, -4, 10, -31,
    14, -14, 11, -24, 9, -6, 12, -19, 10, -28,
    13, -9, 10, -22, 12, -15, 9, -3, 16, -27,
    11, -12, 2, 0, 3, 7, -8, 10, -14, 5,
    12, -19, 7, -4, 9, 2, -1, 4, 9, -33,
    11, -22, 13, -7, 10, -28, 12, -12, 9, -3,
    14, -25, 10, -9, 12, -17, 11, -30, 13, -6,
    9, -14, 12, -23, 10, -4, 15, -27, 11, -11,
    12, -20, 9, -8, 13, -31, 10, -15, 11, -2,
    10, -26, 14, -12, 9, -21, 12, -5, 11, -29,
    13, -10, 10, -24, 12, -16, 9, -3, 14, -22,
    11, -28, 13, -8, 10, -18, 12, -33, 9, -12,
    12, -6, 10, -25, 14, -14, 11, -20, 13, -31,
    9, -17, 12, -9, 10, -24, 11, -29, 10, 16,
    4, 9, 13, -16, 10, -5, 12, -27, 9, -13,
    11, -22, 14, -8, 10, -19, 12, -3, 9, -26,
    13, -12, 10, -29, 11, -7, 15, -21, 10, -15,
    12, -4, 9, -24, 13, -17, 10, -30, 11, -9,
    10, -20, 12, -13, 14, -26, 9, -5, 13, -23,
    11, -16, 10, -31, 12, -8, 13, -20, 9, -11,
    14, -27, 11, -4, 10, -18, 12, -25, 11, -14,
    9, -9, 13, -22, 10, -29, 11, -6, 15, -19,
    12, -24, 10, -12, 13, -3, 9, -27, 11, -16,
    10, -7, 24, -20, 12, -14, 11, -28, 10, -5,
    13, -18, 9, -10, 12, -24, 10, -2, 14, -21,
    11, -29, 12, -13, 10, -7, 13, -25, 9, -17,
    12, -4, 11, -22, 14, -15, 10, -30, 12, -9,
    10, -19, 13, -6, 9, -26, 11, -12, 13, -3,
    12, -24, 10, -16, 11, -31, 14, -8, 10, -20,
    13, -11, 9, -27, 12, -5, 10, -18, 11, -29,
    10, -15, 14, -9, 12, -23, 11, -4, 16, -26,
    12, -21, 10, -12, 13, -30, 9, -7, 11, -17,
    11, -6, 15, -25, 10, -14, 12, -28, 13, -10,
    9, -22, 11, -3, 14, -19, 10, -27, 12, -13,
    13, -8, 10, -20, 12, -29, 11, -11, 9, -18,
]
PAPUAN_B = [
    [-4, 16, -10, 5, -15, 4, -2, 15, -18, 6],
    [-5, 4, -16, 8, -2, 6, -20, 5, -9, 16],
    [-12, 3, -3, 6, -17, 4, -7, 17, -1, 5],
    [-14, 8, -6, 4, -20, 6, -2, 5, -11, 9],
    [-2, 5, -13, 4, -8, 15, -21, 6, -4, 7],
    [-16, 6, -3, 17, -13, 4, -8, 7, -2, 6],
    [-18, 8, 15, -11, 5, -17, 7, -4],
    [-3, 5, -14, 8, -7, 5, -20, 6, -2, 9],
    [-10, 7, -16, 9, -5, 6, -22, 5, -9, 7],
    [-2, 8, -15, 6, -10, 4, -19, 15, -4, 5],
    [-13, 6, -6, 4, -17, 9, -3, 5, -20, 9],
    [-9, 7, -16, 4, -3, 8, -12, 6, -19, 8],
    [-5, 6, -15, 7, -9, 5, -2, 16, -18, 6],
    [-4, 3, -3, 5, -9, 8],
    [-6, 3, -1, 5, 2, -15],
    [-14, 8, -3, 6, -18, 7, -6, 4, -2, 9],
    [-16, 6, -4, 7, -10, 5, -20, 8, -3, 6],
    [-8, 7, -16, 5, -2, 9, -18, 6, -7, 5],
    [-13, 5, -3, 8, -20, 6, -9, 7, -1, 5],
    [-17, 9, -7, 5, -14, 8, -2, 6, -19, 15],
    [-6, 5, -16, 8, -10, 4, -2, 15, -14, 7],
    [-19, 8, -5, 6, -12, 7, -21, 5, -8, 6],
    [-3, 7, -17, 15, -9, 6, -13, 8, -20, 5],
    [-11, 8, -5, 6, -16, 7, -19],
    [8, -10, 6, -3, 8, -18, 5, -8],
    [-14, 15, -5, 6, -12, 8, -2, 5, -17, 6],
    [-8, 7, -19, 6, -4, 16, -14, 6, -10, 7],
    [-2, 5, -16, 9, -11, 6, -20, 7, -5, 6],
    [-13, 7, -8, 15, -17, 5, -3, 9, -15, 6],
    [-10, 6, -20, 8, -5, 9, -13, 5, -7, 15],
    [-18, 7, -2, 6, -12, 8, -16, 7, -9, 5],
    [-5, 9, -14, 6, -19, 7, -4, 16, -12, 6],
    [-16, 6, -8, 9, -2, 5, -18, 7, -10, 5],
    [-4, 21, -13, 8, -9, 7, -19, 6, -3, 8],
    [-12, 5, -6, 8, -16, 6, -1, 15, -14, 7],
    [-19, 8, -9, 6, -4, 9, -16, 5, -11, 8],
    [-2, 7, -14, 15, -10, 6, -20, 8, -6, 5],
    [-12, 9, -4, 5, -17, 7, -8, 9, -2, 6],
    [-16, 6, -10, 7, -20, 15, -5, 6, -13, 9],
    [-7, 5, -18, 8, -3, 6, -12, 7, -19, 6],
    [-10, 15, -6, 8, -15, 7, -2, 17, -17, 8],
    [-14, 6, -8, 9, -20, 5, -4, 7, -11, 15],
    [-4, 16, -16, 6, -9, 8, -19, 9, -7, 5],
    [-15, 7, -2, 15, -12, 6, -18, 8, -9, 9],
    [-5, 6, -13, 8, -19, 7, -7, 5, -12],
]

KARITIANA = [
    8, 12, 10, -6, 14, -18, 11, -28, 9, -4,
    13, -22, 10, -31, 12, -9, 15, -26, 11, -14,
    10, -33, 12, -7, 9, -24, 13, -18, 11, -32,
    14, -12, 10, -27, 12, -5, 9, -30, 11, -20,
    12, -8, 10, -25, 13, -15, 11, -34, 9, -11,
    15, -21, 10, -6, 12, -28, 9, -16, 11, -3,
    13, -24, 10, 4, -12, 11, -19, 14, -30, 10,
    -7, 12, -22, 9, -14, 25, -27, 10, -5, 12,
    -18, 11, 13, -25, 10, -9, 12, -31, 14, -15,
    11, -4, 9, -23, 13, -12, 10, -28, 12, -19,
    10, -8, 14, -21, 11, -26, 9, -3, 12, -17,
    13, -29, 10, -11, 12, -24, 11, -6, 15, -20,
    9, -14, 12, -27, 10, -4, 13, -22, 11, -33,
    10, -15, -3, -8, -5, 3, -12, 11, -20, 8,
    10, -6, 4, -15, 7, 9, -32, 4, 16, -10,
    12, -18, 10, -26, 14, -7, 11, -30, 9, -13,
    13, -4, 10, -22, 12, -16, 9, -28, 11, -9,
    10, -25, 14, -11, 12, -19, 10, -3, 13, -27,
    11, -14, 9, -31, 12, -7, 10, -21, 15, -12,
    12, -26, 10, -5, 13, -18, 11, -29, 9, -10,
    14, -22, 11, -13, 10, -30, 12, -6, 11, -24,
    10, -9, 13, -27, 12, -15, 9, -3, 14, -20,
    11, -28, 10, -11, 12, -23, 13, -7, 10, -32,
    12, -16, 9, -24, 11, -4, 14, -19, 9, 12,
    5, -6, 12, -21, 10, -13, 11, -28, 13, -8,
    10, -25, 12, -10, 9, -30, 14, -17, 11, -4,
    13, -20, 10, -14, 12, -27, 11, -6, 10, -22,
    11, -9, 13, -31, 10, -16, 12, -3, 14, -24,
    10, -18, 11, -26, 13, -10, 9, -29, 12, -13,
    12, -5, 10, -21, 11, -28, 14, -15, 10, -8,
    13, -27, 9, -12, 12, -19, 10, -32, 11, -6,
    10, -14, 12, -24, 13, -4, 11, -22, 10, -30,
    11, -9, 14, -17, 10, -26, 12, -12, 9, -3,
    12, -23, 10, -29, 11, -8, 24, -20, 10, -14,
    13, -11, 11, -25, 12, -5, 10, -31, 14, -17,
    10, -22, 12, -9, 11, -27, 13, -14, 10, -4,
    11, -30, 10, -18, 12, -7, 14, -24, 11, -12,
    12, -3, 10, -21, 13, -28, 9, -15, 11, -26,
    10, -19, 13, -10, 11, -31, 12, -6, 14, -23,
    11, -13, 10, -27, 12, -4, 9, -20, 13, -32,
    14, -8, 11, -24, 10, -16, 12, -29, 10, -11,
    12, -26, 13, -5, 11, -21, 10, -33, 12, -14,
    10, -18, 14, -9, 12, -27, 11, -3, 13, -22,
    11, -31, 10, -12, 12, -19, 13, -26, 10, -7,
    12, -16, 11, -28, 10, -6, 13, -21, 11, -30,
]
KARITIANA_B = [
    [10, 16, 3, 5, -6, 14, -15, 3, 1, 6],
    [-6, -14, 4, -18, 17, 3, -12, 6, -4, 5],
    [-19, 4, -1, 18, -13, 6, -5, 4, -20, 7],
    [-2, 15, -16, 6, -1, 5, -18, 4, -8, 16],
    [-1, 5, -14, 19, -4, 6, -20, 5, -3, 9],
    [-7, 16, -1, 5, -15, 4, -5, 17, 1, 7],
    [-10, 15, -4, 6, -8, 5, -16, 3],
    [4, -9, 5, -5, 18, -12, 4, 2, -4, -8],
    [3, 16, -14, 5, -2, 4, -18, 17, -4, 6],
    [2, -12, 14, -6, 5, -16, 3, -9, 19, -2],
    [3, -12, 5, -14, 16, -6, 5, -8, 3, 15],
    [-15, 4, -3, 17, -12, 3, 2, 6, -8, 5],
    [-3, 5, -15, 4, 1, 16, -10, 3, -18, 7],
    [2, -4, 4, -6, 3, 9],
    [2, -1, -5, 4, -12, 3],
    [-5, 18, -14, 5, 1, 4, -17, 3, -4, 15],
    [2, -12, 16, -6, 3, -15, 4, -3, 5, -16],
    [-13, 5, -2, 17, -8, 3, -1, 6, -15, 6],
    [-4, 15, -18, 4, -1, 5, -10, 16, -5, 3],
    [-14, 4, 1, 6, -7, 18, -15, 3, -2, 5],
    [-10, 4, -6, 15, -16, 4, -1, 6, -12, 3],
    [-1, 16, -15, 4, -5, 3, 2, 17, -10, 5],
    [-16, 3, -4, 5, -11, 15, -1, 4, -19, 6],
    [-5, 3, -12, 4, 1, 16, -8],
    [5, -10, 4, -5, 17, -15, 4, -1],
    [-12, 5, -2, 16, -17, 6, -6, 4, 1, 5],
    [-10, 4, -6, 15, -14, 3, 1, 5, -12, 18],
    [-2, 5, -18, 4, -7, 16, 1, 6, -13, 3],
    [-7, 4, -14, 17, -2, 3, -16, 6, -5, 4],
    [1, 15, -10, 4, -15, 6, -7, 3, -1, 16],
    [-15, 4, -4, 18, -8, 3, -19, 5, 1, 4],
    [-5, 6, -13, 3, 1, 16, -10, 4, -17, 6],
    [-2, 17, -8, 4, -14, 5, -4, 3, 1, 15],
    [-12, 4, -16, 5, 1, 19, -9, 4, -6, 5],
    [-3, 16, -13, 4, 1, 6, -18, 5, -8, 3],
    [-10, 5, -2, 18, -15, 6, -6, 3, 1, 5],
    [-17, 4, -8, 15, 1, 6, -13, 4, -4, 17],
    [1, 5, -10, 3, -16, 16, -6, 4, -14, 6],
    [-8, 15, -2, 4, -18, 6, 1, 18, -12, 3],
    [-4, 5, -15, 16, 1, 4, -9, 3, -19, 7],
    [-2, 17, -13, 4, -7, 6, -16, 4, -3, 15],
    [-14, 6, 1, 19, -10, 5, -19, 3, -5, 6],
    [-7, 4, -3, 16, -15, 5, 1, 4, -11, 17],
    [-18, 5, -4, 3, -8, 15, -14, 4, 1, 5],
    [-6, 4, -16, 17, 1, 6, -10, 4, -18],
]

VALUES = [PALESTINIAN, SPANISH, ICELANDIC, SAAMI, TUBALAR, PAPUAN, KARITIANA]
VALUES_B = [PALESTINIAN_B, SPANISH_B, ICELANDIC_B, SAAMI_B, TUBALAR_B, PAPUAN_B, KARITIANA_B]

X_TICKS = [0, 2e7, 4e7, 6e7, 8e7, 1e8, 1.2e8, 1.4e8]
Y_TICKS = [-0.4, -0.3, -0.2, -0.1, 0.0, 0.1, 0.2]
THRESHOLD = 0.1
X_EXTENT = [-4.67e6, 141.4e6]   # plot region of each panel (zero line and title centre)
TITLE_Y = 0.273

xscale = alt.Scale(domain=[0, 1.4e8], nice=False, zero=False)
yscale = alt.Scale(domain=[-0.4, 0.2], nice=False, zero=False)

AXIS_STYLE = dict(
    title=None, grid=False, labelFont=FONT, labelFontSize=8.5, labelColor="black",
    domainColor="#222222", tickColor="#222222", domainWidth=1, tickWidth=1,
    labelFlush=False, labelOverlap=False,
)
x_axis = alt.Axis(
    values=X_TICKS, offset=3, tickSize=5, labelPadding=3,
    labelExpr="replace(format(datum.value, '.1e'), 'e+', 'e+0')",
    **AXIS_STYLE,
)
y_axis = alt.Axis(
    values=Y_TICKS, offset=35, tickSize=4.5, labelPadding=4,
    labelExpr="datum.value < 0 ? '-' + format(-datum.value, '.1f') : format(datum.value, '.1f')",
    **AXIS_STYLE,
)


def xenc(field):
    return alt.X(field, type="quantitative", scale=xscale, axis=x_axis)


def yenc(field):
    return alt.Y(field, type="quantitative", scale=yscale, axis=y_axis)


panels = []
for name, color, vals, vals_b in zip(PANELS, COLORS, VALUES, VALUES_B):
    xs, vs = [], []
    for p, v in zip(POS, vals):
        xs.append(p * 1e5)
        vs.append(v / 100)
    for prow, vrow in zip(POS_B, vals_b):
        for p, v in zip(prow, vrow):
            xs.append(p * 1e5)
            vs.append(v / 100)
    df = pd.DataFrame({"x": xs, "v": vs}).sort_values("x").reset_index(drop=True)

    black = alt.Chart(df).mark_line(color="black", strokeWidth=1.2, strokeJoin="round").encode(
        x=xenc("x"), y=yenc("v"),
    )
    high = alt.Chart(df).transform_filter(f"datum.v > {THRESHOLD}").mark_line(
        color=color, strokeWidth=1.0, strokeJoin="round"
    ).encode(x=xenc("x"), y=yenc("v"))
    zero = alt.Chart(pd.DataFrame({"x": [X_EXTENT[0]], "x1": [X_EXTENT[1]], "v": [0.0]})).mark_rule(
        color="#ff0000", strokeWidth=1.5
    ).encode(x=xenc("x"), x2="x1:Q", y=yenc("v"))
    title = alt.Chart(pd.DataFrame({"x": [(X_EXTENT[0] + X_EXTENT[1]) / 2], "v": [TITLE_Y], "t": [name]})).mark_text(
        font=FONT, fontSize=9.5, color="black", align="center", baseline="middle"
    ).encode(x=xenc("x"), y=yenc("v"), text="t:N")
    panels.append(alt.layer(black, high, zero, title).properties(width=1059, height=84.7))

chart = alt.vconcat(*panels, spacing=35.6, bounds="flush").properties(
    padding={"left": 15, "top": 17, "right": 3, "bottom": 2},
    background="white",
).configure_view(stroke="transparent")

chart.save("out.html", embed_options={"renderer": "svg", "actions": False})
